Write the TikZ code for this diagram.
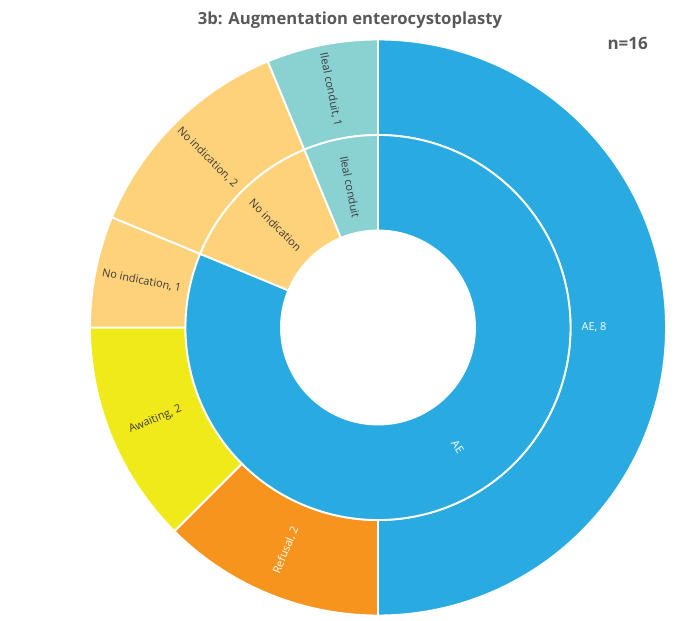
\documentclass[tikz,border=0pt]{standalone}
\usepackage{fontspec}
\setmainfont{Open Sans}
\definecolor{aeblue}{HTML}{29ABE2}
\definecolor{ilealteal}{HTML}{8AD2D2}
\definecolor{noindorange}{HTML}{FED27A}
\definecolor{awaityellow}{HTML}{F1EA1B}
\definecolor{refusalorange}{HTML}{F7941E}
\definecolor{titlegray}{HTML}{595959}
\definecolor{labelgray}{HTML}{3A3A3A}
\tikzset{
  sector/.style={draw=white, line width=1.6pt, line join=round},
  seglabel/.style={font=\fontsize{9.4}{11}\selectfont, text=labelgray, inner sep=0pt},
  seglabelw/.style={seglabel, text=white},
  charttitle/.style={font=\fontsize{14.2}{16}\selectfont\bfseries, text=titlegray},
  countlabel/.style={font=\fontsize{14.5}{16}\selectfont\bfseries, text=titlegray}
}
% ring sector: inner radius, outer radius, start angle, end angle, colour
\newcommand{\ringsector}[5]{%
  \filldraw[sector, fill=#5] (#3:#2) arc[start angle=#3, end angle=#4, radius=#2]
    -- (#4:#1) arc[start angle=#4, end angle=#3, radius=#1] -- cycle;}

\begin{document}
\begin{tikzpicture}
  \useasboundingbox (0,0) rectangle (20.76,18.63);
  \node[charttitle] (title) at (10.5,18.03) {3b: Augmentation enterocystoplasty};
  \node[countlabel] (count) at (18.83,17.34) {n=16};

  \begin{scope}[shift={(11.34,8.805)}]
    % outer ring
    \ringsector{5.775}{8.64}{-90}{90}{aeblue}
    \ringsector{5.775}{8.64}{225}{270}{refusalorange}
    \ringsector{5.775}{8.64}{180}{225}{awaityellow}
    \ringsector{5.775}{8.64}{157.5}{180}{noindorange}
    \ringsector{5.775}{8.64}{112.5}{157.5}{noindorange}
    \ringsector{5.775}{8.64}{90}{112.5}{ilealteal}
    % inner ring
    \ringsector{2.91}{5.775}{157.5}{450}{aeblue}
    \ringsector{2.91}{5.775}{112.5}{157.5}{noindorange}
    \ringsector{2.91}{5.775}{90}{112.5}{ilealteal}

    % outer labels
    \node[seglabelw] (ae8) at (0:6.48) {AE, 8};
    \node[seglabelw, rotate=67.5] (refusal) at (247.5:7.23) {Refusal, 2};
    \node[seglabel, rotate=22.5] (awaiting) at (202.5:7.23) {Awaiting, 2};
    \node[seglabel, rotate=-11.25] (noind1) at (168.75:7.23) {No indication, 1};
    \node[seglabel, rotate=-45] (noind2) at (135:7.23) {No indication, 2};
    \node[seglabel, rotate=-78.75] (ileal1) at (101.25:7.27) {Ileal conduit, 1};
    % inner labels
    \node[seglabelw, rotate=-56.25] (ae) at (-56.25:4.3) {AE};
    \node[seglabel, rotate=-45] (noind) at (135:4.35) {No indication};
    \node[seglabel, rotate=-78.75] (ileal) at (101.25:4.3) {Ileal conduit};
  \end{scope}
\end{tikzpicture}
\end{document}
